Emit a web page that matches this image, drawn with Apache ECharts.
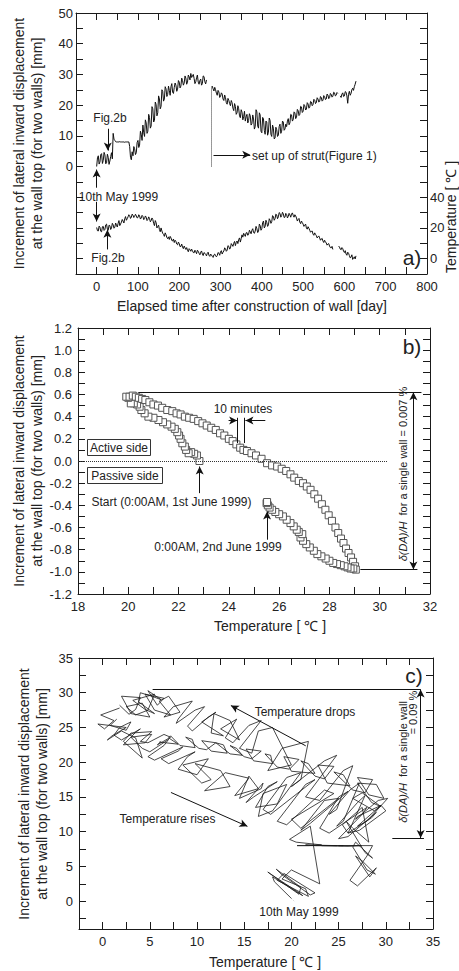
<!DOCTYPE html>
<html><head><meta charset="utf-8">
<script src="https://cdn.jsdelivr.net/npm/echarts@6/dist/echarts.min.js"></script>
<style>html,body{margin:0;padding:0;background:#fff}#c{width:459px;height:971px}</style>
</head><body><div id="c"></div>
<script>
// ---------- Panel a: elapsed-time series (every 2 days) ----------
const days = [0,2,4,6,8,10,12,14,16,18,20,22,24,26,28,30,32,34,36,38,
40,42,44,46,48,50,52,54,56,58,60,62,64,66,68,70,72,74,76,78,
80,82,84,86,88,90,92,94,96,98,100,102,104,106,108,110,112,114,116,118,
120,122,124,126,128,130,132,134,136,138,140,142,144,146,148,150,152,154,156,158,
160,162,164,166,168,170,172,174,176,178,180,182,184,186,188,190,192,194,196,198,
200,202,204,206,208,210,212,214,216,218,220,222,224,226,228,230,232,234,236,238,
240,242,244,246,248,250,252,254,256,258,260,262,264,266,268,270,272,274,276,278,
280,282,284,286,288,290,292,294,296,298,300,302,304,306,308,310,312,314,316,318,
320,322,324,326,328,330,332,334,336,338,340,342,344,346,348,350,352,354,356,358,
360,362,364,366,368,370,372,374,376,378,380,382,384,386,388,390,392,394,396,398,
400,402,404,406,408,410,412,414,416,418,420,422,424,426,428,430,432,434,436,438,
440,442,444,446,448,450,452,454,456,458,460,462,464,466,468,470,472,474,476,478,
480,482,484,486,488,490,492,494,496,498,500,502,504,506,508,510,512,514,516,518,
520,522,524,526,528,530,532,534,536,538,540,542,544,546,548,550,552,554,556,558,
560,562,564,566,568,570,572,574,576,578,580,582,584,586,588,590,592,594,596,598,
600,602,604,606,608,610,612,614,616,618,620,622,624,626,628];
const displacement = [0,2.8,3.5,0.8,1.5,3.9,4.2,1.0,2.0,4.6,3.8,0.9,1.2,4.0,3.0,0.7,1.8,3.2,4.5,2.5,
10.8,8.9,8.5,8.1,8.0,8.0,8.0,8.0,8.1,8.0,8.0,8.0,8.0,8.0,7.9,8.0,8.0,8.0,8.0,8.0,
6.5,3.0,2.2,4.8,3.5,6.5,5.8,3.9,4.5,7.8,8.5,6.2,7.0,11.5,10.5,8.5,13.5,11.0,9.8,15.2,
14.2,10.8,11.5,17.0,16.0,12.5,13.2,19.5,18.8,14.5,15.0,21.0,20.2,16.5,17.5,23.0,22.0,18.8,19.6,25.0,
24.5,21.3,22.0,26.0,25.3,22.8,23.5,26.2,24.8,23.2,26.0,27.0,24.2,23.8,25.8,27.2,26.5,24.5,25.2,28.0,
27.5,25.6,26.2,28.8,28.0,26.5,27.2,29.5,28.8,26.8,27.5,29.8,29.2,28.2,30.3,29.0,29.5,30.0,28.7,27.0,
27.6,28.9,29.8,27.5,26.8,28.0,28.5,26.5,27.0,29.5,29.3,27.6,26.9,28.2,null,null,null,null,null,null,
26.2,25.3,24.6,25.8,25.0,23.9,23.2,24.8,24.3,22.5,22.8,24.0,23.6,22.0,21.5,23.3,22.4,20.8,20.3,22.2,
21.6,20.5,19.8,21.5,20.8,19.0,18.2,20.5,19.6,17.0,17.5,19.8,18.8,16.5,15.9,18.5,17.7,15.2,16.2,18.0,
14.8,16.2,17.0,14.2,15.0,17.2,16.5,13.5,14.0,16.8,15.5,12.2,13.0,18.5,17.8,13.2,12.5,17.5,16.8,11.5,
11.0,16.0,15.5,11.8,10.5,14.8,14.5,10.2,11.2,15.8,15.0,10.5,9.8,13.5,12.5,9.0,9.3,12.8,12.0,9.8,
10.2,13.0,13.8,10.8,11.5,14.8,14.5,11.8,12.2,13.8,13.0,14.8,15.6,13.6,14.2,17.0,16.8,14.8,15.3,17.8,
17.5,15.6,16.0,18.6,18.2,16.6,17.0,19.6,19.4,17.6,18.0,20.2,19.8,18.4,18.7,20.8,20.4,19.0,19.3,21.2,
21.0,19.8,20.2,21.9,21.6,20.5,20.8,22.4,22.0,21.0,21.2,22.8,22.5,21.3,21.6,23.1,22.8,21.8,22.0,23.6,
23.3,22.1,22.4,23.8,23.5,22.6,22.9,24.2,24.0,23.0,23.2,24.1,23.8,null,null,23.0,22.5,23.6,24.0,22.8,
23.0,24.4,24.2,23.0,20.6,23.5,24.5,23.2,23.8,25.0,25.5,24.8,26.0,26.8,27.8];
const temperature = [20.3,18.2,18.0,21.2,20.5,17.8,17.5,20.8,21.0,18.4,19.0,22.0,22.5,19.2,18.5,21.8,21.5,19.0,20.0,23.0,
22.0,19.8,20.5,23.2,21.8,20.6,23.0,24.8,21.5,22.6,23.8,25.5,24.5,23.2,26.0,27.4,25.0,26.0,27.2,28.6,
28.0,26.2,27.0,29.0,28.3,26.8,27.5,28.9,28.0,26.5,26.8,28.6,27.8,25.8,26.5,28.2,27.5,25.4,26.0,27.8,
27.0,24.8,25.5,27.2,26.2,24.0,24.8,26.5,25.5,23.0,21.5,24.8,23.5,20.0,21.0,21.8,19.0,17.5,20.0,18.0,
16.5,15.8,14.5,16.8,15.5,13.8,13.0,14.2,12.5,14.5,13.5,11.8,11.5,12.8,10.5,12.0,11.2,9.5,9.0,10.8,
9.8,7.8,8.0,9.5,7.5,6.5,8.2,7.0,6.0,7.2,5.5,4.5,6.5,5.8,4.8,6.2,5.2,4.0,3.8,5.5,
4.5,3.2,5.5,4.8,3.5,2.5,4.2,5.0,3.0,2.0,4.0,3.5,2.8,1.8,3.5,4.2,2.2,1.5,3.0,2.4,
1.5,0.8,2.5,3.0,1.8,1.2,2.0,4.0,3.5,2.2,4.5,5.2,3.0,4.2,5.0,7.0,6.5,4.8,5.5,8.5,
8.0,6.2,7.0,9.8,9.0,8.0,10.0,11.2,8.5,10.5,11.5,9.8,12.5,13.5,10.8,13.0,15.5,14.0,16.5,15.5,
14.5,16.8,17.0,15.2,16.0,18.5,17.5,16.2,18.5,19.5,17.0,16.5,18.0,21.0,19.5,17.0,17.8,22.5,21.5,18.5,
19.5,23.5,24.5,20.0,21.0,25.0,23.5,21.0,22.0,26.0,25.0,23.0,24.0,28.0,27.5,25.0,26.0,29.0,28.5,26.0,
27.2,30.0,29.5,27.0,28.0,30.2,29.2,26.8,27.0,29.5,28.8,26.5,27.5,29.5,28.5,27.0,29.0,29.8,28.2,27.0,
28.6,27.8,26.5,24.5,25.5,26.2,23.8,22.8,24.5,23.5,22.5,21.0,21.8,22.5,20.0,19.2,20.8,19.8,18.5,17.2,
17.8,18.0,16.0,15.2,16.8,15.8,15.0,13.5,14.2,14.8,13.5,12.0,12.8,13.2,11.5,10.5,12.0,11.0,10.2,8.8,
9.5,9.8,8.2,7.2,7.0,8.0,6.0,null,null,null,null,null,null,8.2,7.5,6.2,5.8,7.2,6.5,4.8,
4.0,5.2,3.0,2.2,4.2,3.5,2.0,0.5,1.0,2.5,-0.5,0.2,1.2,-0.2,1.8];

// ---------- Panel b: 10-minute readings, 1-2 June 1999 ----------
const bTemp = [22.83,22.73,22.62,22.50,22.40,22.30,22.25,22.15,22.08,22.02,
21.95,21.85,21.72,21.55,21.38,21.20,21.00,20.80,20.65,20.52,
20.45,20.35,20.22,20.10,20.00,19.92,20.05,20.18,20.30,20.42,
20.55,20.68,20.84,21.00,21.18,21.35,21.55,21.75,21.92,22.08,
22.25,22.42,22.60,22.78,22.95,23.12,23.30,23.48,23.65,23.82,
24.00,24.15,24.30,24.45,24.58,24.72,24.90,25.08,25.30,25.52,
25.72,25.92,26.10,26.28,26.45,26.60,26.78,26.95,27.10,27.25,
27.40,27.55,27.70,27.84,27.97,28.10,28.24,28.35,28.46,28.56,
28.66,28.76,28.86,28.94,29.02,29.05,28.95,28.84,28.72,28.60,
28.45,28.30,28.15,28.00,27.85,27.68,27.52,27.38,27.22,27.08,
26.95,26.85,26.92,26.78,26.70,26.58,26.45,26.30,26.15,26.00,
25.85,25.72,25.62,25.55,25.50,25.52];
const bDisp = [0.00,0.05,0.065,0.08,0.07,0.10,0.13,0.16,0.20,0.23,
0.26,0.29,0.31,0.33,0.35,0.37,0.39,0.40,0.43,0.46,
0.49,0.51,0.52,0.52,0.57,0.58,0.58,0.59,0.58,0.57,
0.56,0.55,0.53,0.51,0.50,0.48,0.46,0.45,0.43,0.42,
0.40,0.39,0.38,0.36,0.34,0.32,0.30,0.28,0.25,0.23,
0.20,0.18,0.15,0.12,0.10,0.09,0.07,0.05,0.02,-0.02,
-0.04,-0.05,-0.07,-0.09,-0.12,-0.15,-0.18,-0.20,-0.23,-0.26,
-0.30,-0.34,-0.39,-0.44,-0.49,-0.54,-0.60,-0.65,-0.70,-0.74,
-0.79,-0.83,-0.87,-0.91,-0.95,-0.98,-0.97,-0.97,-0.96,-0.95,
-0.94,-0.93,-0.92,-0.90,-0.88,-0.86,-0.84,-0.81,-0.78,-0.75,
-0.72,-0.69,-0.66,-0.64,-0.62,-0.59,-0.56,-0.53,-0.50,-0.48,
-0.46,-0.44,-0.42,-0.40,-0.38,-0.37];

// ---------- tick labels ----------
const aXLabels = [0,100,200,300,400,500,600,700,800];
const aYLabels = [0,10,20,30,40,50];
const aTLabels = [0,20,40];
const bXLabels = [18,20,22,24,26,28,30,32];
const bYLabels = [-1.2,-1.0,-0.8,-0.6,-0.4,-0.2,0,0.2,0.4,0.6,0.8,1.0,1.2];
const cXLabels = [0,5,10,15,20,25,30,35];
const cYLabels = [0,5,10,15,20,25,30,35];
const cYTicks = [-2.5,0,2.5,5,7.5,10,12.5,15,17.5,20,22.5,25,27.5,30,32.5,35];

// ---------- annotation geometry (data coordinates) ----------
const aStrutLine = [[277,0],[277,26.2]];
const aArrows = [
  [[27,12.3],[27,5.2]],
  [[283,3.8],[372,3.8]],
  [[0,-6.9],[0,-1.0]],
  [[0,-11.5],[0,-17.9]],
  [[26,-27.0],[26,-20.6]]
];
const bZeroLine = [[18,0],[30.3,0]];
const bTopLine = [[20.4,0.62],[31.66,0.62]];
const bBottomLine = [[29.23,-0.98],[31.5,-0.98]];
const bRangeArrow = [[31.34,0.62],[31.34,-0.98]];
const bTenMinLines = [[[24.35,0.39],[24.35,0.162]],[[24.62,0.39],[24.62,0.162]]];
const bArrows = [
  [[23.99,0.366],[24.33,0.366]],
  [[25.45,0.366],[24.66,0.366]],
  [[22.84,-0.29],[22.84,-0.05]],
  [[25.52,-0.71],[25.52,-0.455]]
];
const cTopLine = [[5.3,30.48],[33.7,30.48]];
const cBottomLine = [[30.69,9.08],[34.04,9.08]];
const cRangeArrow = [[33.69,30.48],[33.69,9.08]];
const cArrows = [
  [[21.52,22.36],[13.59,28.16]],
  [[7.24,15.65],[15.34,10.77]]
];

// ---------- build ----------
const FONT = "'Liberation Sans', Arial, Helvetica, sans-serif";
const INK = '#222';
const dispSeries = days.map((d,i)=>[d, displacement[i]===null?'-':displacement[i]]);
const tempSeries = days.map((d,i)=>[d, temperature[i]===null?'-':temperature[i]]);
const cSeries = days.map((d,i)=>(displacement[i]===null||temperature[i]===null)?['-','-']:[temperature[i],displacement[i]]);
const bSeries = bTemp.map((t,i)=>[t,bDisp[i]]);

function axis(o){
  const a = {
    type:'value', gridIndex:o.grid, position:o.pos, min:o.min, max:o.max,
    axisLine:{show:true, onZero:false, lineStyle:{color:'#1a1a1a', width:1}},
    axisTick:{show:true, inside:true, length:7},
    splitLine:{show:false},
    axisLabel:{show:!!o.labels, margin:o.margin||6, fontSize:13, color:INK, fontFamily:FONT}
  };
  if (o.interval!==undefined) a.interval = o.interval;
  if (o.labels){
    if (o.custom){ a.axisLabel.customValues = o.labels; }
    else { const L=o.labels; a.axisLabel.formatter = v => { const r=Math.round(v*1000)/1000; return L.some(x=>Math.abs(x-r)<1e-6) ? (o.fix!==undefined ? (Math.abs(r)<1e-9?0:r).toFixed(o.fix) : String(r)) : ''; }; }
  }
  if (o.ticks) a.axisTick.customValues = o.ticks;
  return a;
}
function seg(p, s0, s1, style){
  const it = [{coord:p[0], symbol:s0||'none'},{coord:p[1], symbol:s1||'none'}];
  if (style) it[0].lineStyle = style;
  return it;
}
const solid = {color:'#111', width:1, type:'solid'};
const dotted = {color:'#333', width:1, type:'dotted'};
function ml(items){
  return {silent:true, animation:false, symbol:['none','none'], symbolSize:[6,8],
    label:{show:false}, lineStyle:solid, emphasis:{disabled:true}, data:items};
}
function txt(text, x, y, size, rot, extra){
  return Object.assign({type:'text', x:x, y:y, rotation:rot||0, silent:true,
    style:{text:text, font:size+'px '+FONT, fill:INK, textAlign:'center', textVerticalAlign:'middle', align:'center', verticalAlign:'middle'}}, extra||{});
}
const R = Math.PI/2;

const option = {
  animation:false,
  backgroundColor:'#fff',
  grid:[
    {left:76, top:13, width:351, height:261},
    {left:78, top:328, width:352, height:266},
    {left:79, top:658, width:354, height:271}
  ],
  xAxis:[
    axis({grid:0,pos:'bottom',min:-50,max:800,interval:50,labels:aXLabels}),
    axis({grid:0,pos:'top',min:-50,max:800,interval:50}),
    axis({grid:1,pos:'bottom',min:18,max:32,interval:1,labels:bXLabels}),
    axis({grid:1,pos:'top',min:18,max:32,interval:1}),
    axis({grid:2,pos:'bottom',min:-2.5,max:35,interval:2.5,labels:cXLabels}),
    axis({grid:2,pos:'top',min:-2.5,max:35,interval:2.5})
  ],
  yAxis:[
    axis({grid:0,pos:'left',min:-35,max:50,interval:5,labels:aYLabels,margin:3}),
    axis({grid:0,pos:'right',min:-10,max:160,interval:10,labels:aTLabels,margin:3}),
    axis({grid:1,pos:'left',min:-1.2,max:1.2,interval:0.1,labels:bYLabels,fix:1}),
    axis({grid:1,pos:'right',min:-1.2,max:1.2,interval:0.1}),
    axis({grid:2,pos:'left',min:-4,max:35,labels:cYLabels,custom:true,ticks:cYTicks}),
    axis({grid:2,pos:'right',min:-4,max:35,ticks:cYTicks})
  ],
  series:[
    {type:'line', xAxisIndex:0, yAxisIndex:0, data:dispSeries, showSymbol:false, symbol:'none',
     connectNulls:false, lineStyle:{color:'#111', width:1}, z:3,
     markLine: ml([
       [{yAxis:0, symbol:'none', lineStyle:dotted},{symbol:'none'}],
       seg(aStrutLine,'none','none',dotted),
       ...aArrows.map(p=>seg(p,'none','arrow'))
     ])},
    {type:'line', xAxisIndex:0, yAxisIndex:1, data:tempSeries, showSymbol:false, symbol:'none',
     connectNulls:false, lineStyle:{color:'#111', width:1}, z:3},
    {type:'line', xAxisIndex:2, yAxisIndex:2, data:bSeries, symbol:'rect', symbolSize:7, showSymbol:true,
     lineStyle:{color:'#444', width:0.7}, itemStyle:{color:'#fff', borderColor:'#555', borderWidth:1}, z:3,
     markLine: ml([
       seg(bZeroLine,'none','none',dotted),
       seg(bTopLine), seg(bBottomLine),
       seg(bRangeArrow,'arrow','arrow'),
       ...bTenMinLines.map(p=>seg(p)),
       ...bArrows.map(p=>seg(p,'none','arrow'))
     ])},
    {type:'line', xAxisIndex:4, yAxisIndex:4, data:cSeries, symbol:'none', showSymbol:false,
     connectNulls:false, lineStyle:{color:'#1a1a1a', width:0.8}, z:3,
     markLine: ml([
       seg(cTopLine), seg(cBottomLine),
       seg(cRangeArrow,'arrow','arrow'),
       ...cArrows.map(p=>seg(p,'none','arrow'))
     ])},
    {type:'scatter', xAxisIndex:4, yAxisIndex:4, data:[[temperature[0], displacement[0]]],
     symbol:'emptyCircle', symbolSize:6, itemStyle:{color:'#fff', borderColor:'#111', borderWidth:1.3}, z:4}
  ],
  graphic:[
    txt('Increment of lateral inward displacement', 19, 143.5, 14, R),
    txt('at the wall top (for two walls) [mm]', 37, 143.5, 14, R),
    txt('Temperature [ ℃ ]', 451, 217, 14, R),
    txt('Elapsed time after construction of wall [day]', 252, 306, 14),
    txt('Fig.2b', 110, 118, 12),
    {type:'text', x:252, y:156, silent:true, style:{text:'set up of strut(Figure 1)', font:'12px '+FONT, fill:INK, textAlign:'left', textVerticalAlign:'middle', align:'left', verticalAlign:'middle'}},
    txt('10th May 1999', 118.5, 196.5, 12),
    txt('Fig.2b', 108, 257.5, 12),
    txt('a)', 412, 257, 21),
    txt('Increment of lateral inward displacement', 19, 461, 14, R),
    txt('at the wall top (for two walls) [mm]', 37, 461, 14, R),
    txt('Temperature [ ℃ ]', 270, 626, 14),
    txt('b)', 412, 346, 21),
    txt('10 minutes', 243, 408.5, 12),
    {type:'rect', shape:{x:87.5, y:439.5, width:63, height:16}, silent:true, style:{fill:'none', stroke:'#333', lineWidth:1}},
    txt('Active side', 119, 447.5, 12),
    {type:'rect', shape:{x:87.5, y:467.5, width:75, height:16}, silent:true, style:{fill:'none', stroke:'#333', lineWidth:1}},
    txt('Passive side', 125, 475.5, 12),
    txt('Start (0:00AM, 1st June 1999)', 171.5, 501.7, 12),
    txt('0:00AM, 2nd June 1999', 218, 547, 12),
    {type:'text', x:403, y:474, rotation:R, silent:true, style:{text:'{i|δ(DA)/H}  for a single wall = 0.007 %', font:'11px '+FONT, fill:INK, textAlign:'center', textVerticalAlign:'middle', align:'center', verticalAlign:'middle', rich:{i:{fontStyle:'italic', fontSize:11, fontFamily:FONT, fill:INK}}}},
    txt('Increment of lateral inward displacement', 24, 794, 14, R),
    txt('at the wall top (for two walls) [mm]', 42, 794, 14, R),
    txt('Temperature [ ℃ ]', 265, 961.5, 14),
    txt('c)', 414, 675, 21),
    txt('Temperature drops', 305, 712, 12),
    txt('Temperature rises', 167.5, 818.5, 12),
    txt('10th May 1999', 299, 911.5, 12),
    {type:'text', x:403, y:762, rotation:R, silent:true, style:{text:'{i|δ(DA)/H}  for a single wall', font:'11px '+FONT, fill:INK, textAlign:'center', textVerticalAlign:'middle', align:'center', verticalAlign:'middle', rich:{i:{fontStyle:'italic', fontSize:11, fontFamily:FONT, fill:INK}}}},
    txt('= 0.09 %', 412.5, 712.5, 11, R)
  ]
};
const chart = echarts.init(document.getElementById('c'), null, {renderer:'svg'});
chart.setOption(option);
</script>
</body></html>
